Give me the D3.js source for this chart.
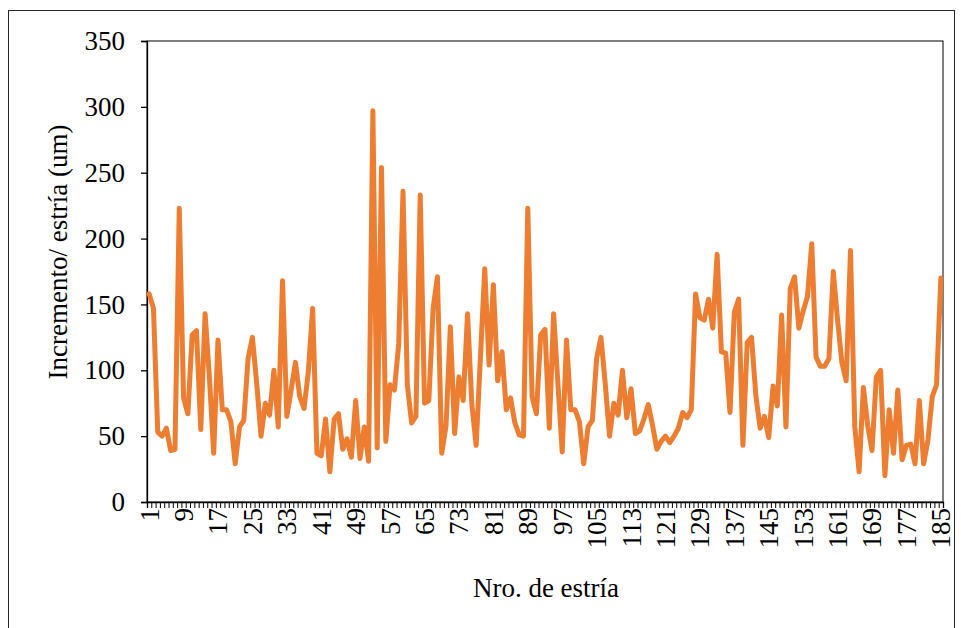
<!DOCTYPE html>
<html><head><meta charset="utf-8">
<script src="https://cdn.jsdelivr.net/npm/d3@7"></script>
<style>body{margin:0;background:#fff}</style>
</head><body>
<svg id="c" width="961" height="628"></svg>
<script>
const values = [
 158,147,53,50,56,39,40,223,79,67,
 127,130,55,143,95,37,123,70,70,61,
 29,57,62,109,125,90,50,75,66,100,
 57,168,65,85,106,80,71,99,147,37,
 35,63,23,63,67,40,48,34,77,33,
 57,31,297,41,254,46,89,85,120,236,
 89,60,65,233,75,77,147,171,37,58,
 133,52,95,77,143,74,43,110,177,104,
 165,92,114,70,79,60,51,50,223,80,
 67,127,131,56,143,90,38,123,70,70,
 61,29,57,62,109,125,90,50,75,66,
 100,64,86,52,54,63,74,58,40,46,
 50,45,50,56,68,64,70,158,140,138,
 154,132,188,114,113,68,144,154,43,121,
 125,81,56,65,49,88,73,142,57,162,
 171,132,145,156,196,110,103,103,109,175,
 138,106,92,191,57,23,87,58,39,95,
 100,20,70,37,85,32,43,44,29,77,
 29,47,80,89,170
];
const categories = d3.range(1, values.length + 1);
const yTicks = [0, 50, 100, 150, 200, 250, 300, 350];
const xTickLabels = categories.filter(c => (c - 1) % 8 === 0);
const xTitle = "Nro. de estría";
const yTitle = "Incremento/ estría (um)";

const svg = d3.select("#c");
const font = "'Liberation Serif', 'Times New Roman', serif";
const fs = 27;
const L = 147, R = 943, T = 41, B = 502;

// outer chart border
svg.append("rect").attr("x", 8.5).attr("y", 10.5).attr("width", 946).attr("height", 640)
  .attr("fill", "none").attr("stroke", "#262626").attr("stroke-width", 1);

const x = d3.scaleBand().domain(categories).range([L, R]);
const xb = d3.scaleLinear().domain([0, categories.length]).range([L, R]);
const y = d3.scaleLinear().domain([0, 350]).range([B, T]);

// plot area border
svg.append("rect").attr("x", L).attr("y", T).attr("width", R - L).attr("height", B - T)
  .attr("fill", "none").attr("stroke", "#000").attr("stroke-width", 1);

// y axis
const ya = svg.append("g").attr("transform", `translate(${L},0)`)
  .call(d3.axisLeft(y).tickValues(yTicks).tickSize(6).tickPadding(16));
ya.select(".domain").attr("stroke", "#000").attr("stroke-width", 1.3);
ya.selectAll(".tick line").attr("stroke", "#000").attr("stroke-width", 1.3);
ya.selectAll("text").attr("font-family", font).attr("font-size", fs).attr("fill", "#000");

// x axis tick marks between categories
const xt = svg.append("g").attr("transform", `translate(0,${B})`)
  .call(d3.axisBottom(xb).tickValues(d3.range(0, categories.length + 1)).tickSize(6).tickFormat(""));
xt.select(".domain").attr("stroke", "#000").attr("stroke-width", 1.3);
xt.selectAll(".tick line").attr("stroke", "#000").attr("stroke-width", 1);

// x tick labels
const xl = svg.append("g").attr("transform", `translate(0,${B})`)
  .call(d3.axisBottom(x).tickValues(xTickLabels).tickSize(0).tickPadding(0));
xl.select(".domain").remove();
xl.selectAll("text")
  .attr("font-family", font).attr("font-size", fs).attr("fill", "#000")
  .attr("transform", "rotate(-90)")
  .attr("text-anchor", "end")
  .attr("x", -6).attr("y", 0).attr("dy", "0.35em");

// line
const line = d3.line()
  .x((d, i) => x(categories[i]) + x.bandwidth() / 2)
  .y(d => y(d));
svg.append("path").datum(values)
  .attr("fill", "none").attr("stroke", "#ED7D31").attr("stroke-width", 5)
  .attr("stroke-linejoin", "round").attr("stroke-linecap", "round")
  .attr("d", line);

// titles
svg.append("text").attr("x", 546).attr("y", 597).attr("text-anchor", "middle")
  .attr("font-family", font).attr("font-size", fs).attr("fill", "#000").text(xTitle);
svg.append("text").attr("transform", "translate(67,252) rotate(-90)").attr("text-anchor", "middle")
  .attr("font-family", font).attr("font-size", fs).attr("fill", "#000").text(yTitle);
</script>
</body></html>
